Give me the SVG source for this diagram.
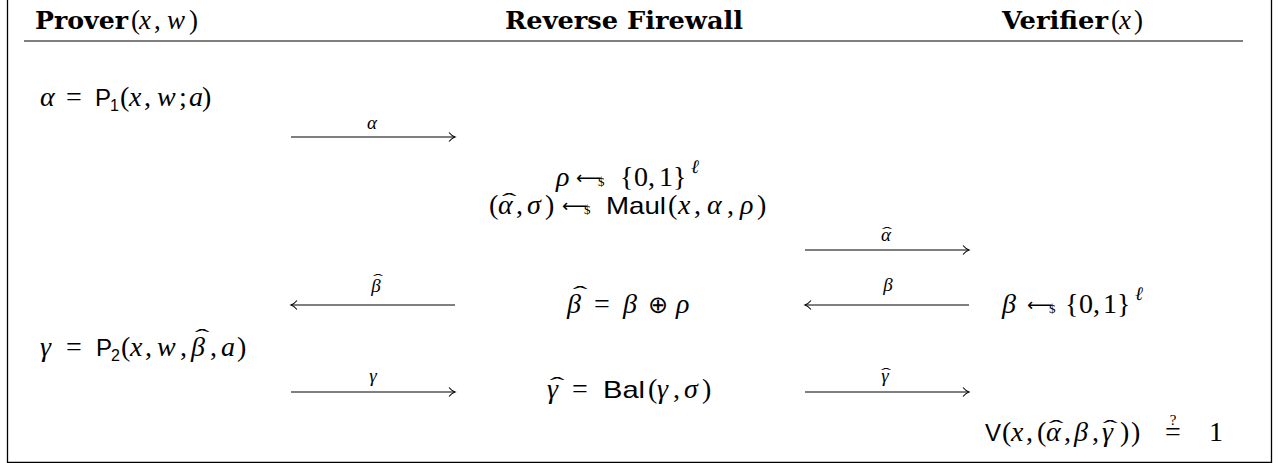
<svg xmlns="http://www.w3.org/2000/svg" width="1279" height="463" viewBox="0 0 1279 463">
<style>
  text { fill: #000; }
  .hd { font-family: "DejaVu Serif", serif; font-weight: bold; font-size: 24px; }
  .hr { font-family: "Liberation Serif", serif; font-weight: normal; font-size: 27px; }
  .hi { font-family: "Liberation Serif", serif; font-weight: normal; font-style: italic; font-size: 27px; }
  .m { font-family: "Liberation Serif", serif; font-size: 28px; }
  .i { font-style: italic; }
  .s { font-family: "Liberation Sans", sans-serif; font-size: 24px; }
  .sub { font-family: "Liberation Sans", sans-serif; font-size: 16px; }
  .sup { font-family: "Liberation Serif", serif; font-style: italic; font-size: 19px; }
  .ar { font-family: "DejaVu Sans", sans-serif; font-size: 18px; }
  .dl { font-family: "Liberation Serif", serif; font-size: 13px; }
  .op { font-family: "DejaVu Sans", sans-serif; font-size: 24px; }
  .q { font-family: "Liberation Serif", serif; font-size: 15px; }
  .lbl { font-family: "Liberation Serif", serif; font-style: italic; font-size: 19px; }
  .hat { font-family: "Liberation Serif", serif; font-size: 22px; }
  .hs { font-family: "Liberation Serif", serif; font-size: 15px; }
  .conn line { stroke: #000; stroke-width: 1.1; fill: none; }
</style>
<defs>
  <marker id="ah" markerWidth="10" markerHeight="12" refX="8" refY="6" orient="auto-start-reverse" markerUnits="userSpaceOnUse">
    <path d="M2,1.5 Q5,5 8,6 Q5,7 2,10.5" fill="none" stroke="#000" stroke-width="1.1"/>
  </marker>
</defs>
<rect width="1279" height="463" fill="#fff"/>
<g id="frame">
  <path d="M7.5,0 V462.5 H1271.5 V0" fill="none" stroke="#000" stroke-width="1.3"/>
  <line x1="24" y1="41" x2="1243" y2="41" stroke="#555" stroke-width="1.3"/>
</g>
<g id="prover">
  <text class="hd" y="29"><tspan x="35" textLength="93" lengthAdjust="spacingAndGlyphs">Prover</tspan><tspan class="hr" x="131">(</tspan><tspan class="hi" x="139">x</tspan><tspan class="hr" x="154">,</tspan><tspan class="hi" x="167">w</tspan><tspan class="hr" x="189">)</tspan></text>
  <text class="m" y="106"><tspan class="i" x="40">α</tspan><tspan x="66">=</tspan><tspan class="s" x="95">P</tspan><tspan class="sub" x="110" y="111">1</tspan><tspan x="120" y="106">(</tspan><tspan class="i" x="129">x</tspan><tspan x="144">,</tspan><tspan class="i" x="157">w</tspan><tspan x="179">;</tspan><tspan class="i" x="189">a</tspan><tspan x="202">)</tspan></text>
  <text class="m" y="356"><tspan class="i" x="40">γ</tspan><tspan x="66">=</tspan><tspan class="s" x="96">P</tspan><tspan class="sub" x="111" y="361">2</tspan><tspan x="121" y="356">(</tspan><tspan class="i" x="130">x</tspan><tspan x="145">,</tspan><tspan class="i" x="157">w</tspan><tspan x="180">,</tspan><tspan class="i" x="191">β</tspan><tspan x="210">,</tspan><tspan class="i" x="221">a</tspan><tspan x="237">)</tspan></text>
  <text class="hat" transform="translate(202,344) scale(2,1)" text-anchor="middle">ˆ</text>
</g>
<g id="firewall">
  <text class="hd" x="505" y="29" textLength="238" lengthAdjust="spacingAndGlyphs">Reverse Firewall</text>
  <text class="m" y="186"><tspan class="i" x="556">ρ</tspan><tspan class="ar" x="576" y="184">⟵</tspan><tspan class="dl" x="598" y="186">$</tspan><tspan x="620">{</tspan><tspan x="634">0</tspan><tspan x="648">,</tspan><tspan x="659">1</tspan><tspan x="673">}</tspan><tspan class="sup" x="691" y="173">ℓ</tspan></text>
  <text class="m" y="214"><tspan x="489">(</tspan><tspan class="i" x="498">α</tspan><tspan x="516">,</tspan><tspan class="i" x="527">σ</tspan><tspan x="545">)</tspan><tspan class="ar" x="562" y="212">⟵</tspan><tspan class="dl" x="584" y="214">$</tspan><tspan class="s" x="606" textLength="60" lengthAdjust="spacingAndGlyphs">Maul</tspan><tspan x="668">(</tspan><tspan class="i" x="678">x</tspan><tspan x="694">,</tspan><tspan class="i" x="707">α</tspan><tspan x="727">,</tspan><tspan class="i" x="740">ρ</tspan><tspan x="757">)</tspan></text>
  <text class="hat" transform="translate(509,208) scale(2,1)" text-anchor="middle">ˆ</text>
  <text class="m" y="313"><tspan class="i" x="567">β</tspan><tspan x="594">=</tspan><tspan class="i" x="623">β</tspan><tspan class="op" x="648">⊕</tspan><tspan class="i" x="676">ρ</tspan></text>
  <text class="hat" transform="translate(580,301) scale(2,1)" text-anchor="middle">ˆ</text>
  <text class="m" y="398"><tspan class="i" x="547">γ</tspan><tspan x="572">=</tspan><tspan class="s" x="603" textLength="42" lengthAdjust="spacingAndGlyphs">Bal</tspan><tspan x="648">(</tspan><tspan class="i" x="657">γ</tspan><tspan x="673">,</tspan><tspan class="i" x="684">σ</tspan><tspan x="702">)</tspan></text>
  <text class="hat" transform="translate(557,392) scale(2,1)" text-anchor="middle">ˆ</text>
</g>
<g id="verifier">
  <text class="hd" y="29"><tspan x="1002" textLength="106" lengthAdjust="spacingAndGlyphs">Verifier</tspan><tspan class="hr" x="1111">(</tspan><tspan class="hi" x="1119">x</tspan><tspan class="hr" x="1134">)</tspan></text>
  <text class="m" y="313"><tspan class="i" x="1002">β</tspan><tspan class="ar" x="1027" y="311">⟵</tspan><tspan class="dl" x="1049" y="313">$</tspan><tspan x="1065">{</tspan><tspan x="1079">0</tspan><tspan x="1093">,</tspan><tspan x="1103">1</tspan><tspan x="1117">}</tspan><tspan class="sup" x="1135" y="300">ℓ</tspan></text>
  <text class="m" y="441"><tspan class="s" x="985">V</tspan><tspan x="1002">(</tspan><tspan class="i" x="1011">x</tspan><tspan x="1026">,</tspan><tspan x="1037">(</tspan><tspan class="i" x="1046">α</tspan><tspan x="1064">,</tspan><tspan class="i" x="1074">β</tspan><tspan x="1092">,</tspan><tspan class="i" x="1102">γ</tspan><tspan x="1120">)</tspan><tspan x="1131">)</tspan><tspan x="1165">=</tspan><tspan x="1209">1</tspan></text>
  <text class="q" x="1173" y="425" text-anchor="middle">?</text>
  <text class="hat" transform="translate(1056,435) scale(2,1)" text-anchor="middle">ˆ</text>
  <text class="hat" transform="translate(1110,435) scale(2,1)" text-anchor="middle">ˆ</text>
</g>
<g id="connectors" class="conn">
  <line x1="291" y1="137" x2="455" y2="137" marker-end="url(#ah)"/>
  <line x1="805" y1="250" x2="969" y2="250" marker-end="url(#ah)"/>
  <line x1="455" y1="305" x2="291" y2="305" marker-end="url(#ah)"/>
  <line x1="969" y1="305" x2="805" y2="305" marker-end="url(#ah)"/>
  <line x1="291" y1="392" x2="455" y2="392" marker-end="url(#ah)"/>
  <line x1="805" y1="392" x2="969" y2="392" marker-end="url(#ah)"/>
</g>
<g id="labels">
  <text class="lbl" x="372" y="129" text-anchor="middle">α</text>
  <text class="lbl" x="886" y="241" text-anchor="middle">α</text>
  <text class="hs" transform="translate(887,237) scale(2,1)" text-anchor="middle">ˆ</text>
  <text class="lbl" x="376" y="292" text-anchor="middle">β</text>
  <text class="hs" transform="translate(378,284) scale(2,1)" text-anchor="middle">ˆ</text>
  <text class="lbl" x="888" y="291" text-anchor="middle">β</text>
  <text class="lbl" x="373" y="382" text-anchor="middle">γ</text>
  <text class="lbl" x="885" y="382" text-anchor="middle">γ</text>
  <text class="hs" transform="translate(886,378) scale(2,1)" text-anchor="middle">ˆ</text>
</g>
</svg>
